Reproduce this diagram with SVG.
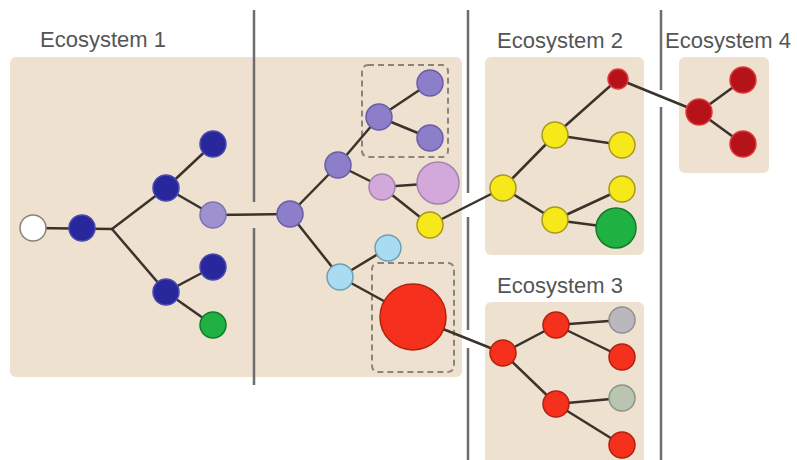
<svg xmlns="http://www.w3.org/2000/svg" width="797" height="460" viewBox="0 0 797 460">
<style>
.box{fill:#eee1d0}
.div{stroke:#6e6e6e;stroke-width:2.5;fill:none}
.lbl{font-family:"Liberation Sans",Arial,sans-serif;font-size:22px;fill:#555}
.dash{fill:none;stroke:#8a847c;stroke-width:2;stroke-dasharray:6 4}
.e line{stroke:#3a322b;stroke-width:2.5}
.db{fill:#28279b;stroke:#4a4ab0;stroke-width:1.5}
.lp{fill:#9d91cf;stroke:#7f73b4;stroke-width:1.5}
.pu{fill:#8c7ec8;stroke:#6a5ca6;stroke-width:1.5}
.pk{fill:#d3a9db;stroke:#a683b0;stroke-width:1.5}
.ye{fill:#f6e819;stroke:#a79a1c;stroke-width:1.5}
.cy{fill:#a9dcf2;stroke:#6f9fb3;stroke-width:1.5}
.rd{fill:#f5311d;stroke:#b3200f;stroke-width:1.5}
.dr{fill:#b5121a;stroke:#e0383c;stroke-width:1.5}
.gr{fill:#1fb142;stroke:#137a2c;stroke-width:1.5}
.wh{fill:#ffffff;stroke:#8a8378;stroke-width:1.5}
.gy{fill:#b9b9bd;stroke:#8f8f94;stroke-width:1.5}
.gg{fill:#b9c4b1;stroke:#8a9684;stroke-width:1.5}
</style>
<rect width="797" height="460" fill="#ffffff"/>
<g id="backgrounds">
<rect class="box" x="10" y="57" width="452" height="320" rx="6"/>
<rect class="box" x="485" y="57" width="159" height="198" rx="6"/>
<rect class="box" x="485" y="302" width="159" height="170" rx="6"/>
<rect class="box" x="679" y="57" width="90" height="116" rx="6"/>
</g>
<g id="dividers">
<path class="div" d="M254 10V202M254 228V385"/>
<path class="div" d="M468 10V193M468 217V330M468 348V460"/>
<path class="div" d="M661 10V90M661 107V460"/>
</g>
<g id="labels">
<text class="lbl" x="40" y="47">Ecosystem 1</text>
<text class="lbl" x="497" y="48">Ecosystem 2</text>
<text class="lbl" x="497" y="293">Ecosystem 3</text>
<text class="lbl" x="665" y="48">Ecosystem 4</text>
</g>
<g id="groups">
<rect class="dash" x="362" y="65" width="86" height="92" rx="6"/>
<rect class="dash" x="372" y="263" width="82" height="109" rx="6"/>
</g>
<g id="connectors" class="e">
<line x1="33" y1="228" x2="112" y2="229"/>
<line x1="112" y1="229" x2="166" y2="188"/>
<line x1="112" y1="229" x2="166" y2="292"/>
<line x1="166" y1="188" x2="213" y2="144"/>
<line x1="166" y1="188" x2="213" y2="215"/>
<line x1="166" y1="292" x2="213" y2="267"/>
<line x1="166" y1="292" x2="213" y2="325"/>
<line x1="213" y1="215" x2="290" y2="214"/>
<line x1="290" y1="214" x2="338" y2="165"/>
<line x1="338" y1="165" x2="379" y2="117"/>
<line x1="379" y1="117" x2="430" y2="83"/>
<line x1="379" y1="117" x2="430" y2="138"/>
<line x1="338" y1="165" x2="382" y2="187"/>
<line x1="382" y1="187" x2="438" y2="183"/>
<line x1="382" y1="187" x2="430" y2="225"/>
<line x1="290" y1="214" x2="340" y2="277"/>
<line x1="340" y1="277" x2="388" y2="248"/>
<line x1="340" y1="277" x2="413" y2="317"/>
<line x1="430" y1="225" x2="503" y2="188"/>
<line x1="413" y1="317" x2="503" y2="353"/>
<line x1="503" y1="188" x2="555" y2="135"/>
<line x1="555" y1="135" x2="618" y2="79"/>
<line x1="555" y1="135" x2="622" y2="145"/>
<line x1="503" y1="188" x2="555" y2="220"/>
<line x1="555" y1="220" x2="622" y2="189"/>
<line x1="555" y1="220" x2="616" y2="228"/>
<line x1="618" y1="79" x2="699" y2="112"/>
<line x1="699" y1="112" x2="743" y2="80"/>
<line x1="699" y1="112" x2="743" y2="144"/>
<line x1="503" y1="353" x2="556" y2="325"/>
<line x1="556" y1="325" x2="622" y2="320"/>
<line x1="556" y1="325" x2="622" y2="357"/>
<line x1="503" y1="353" x2="556" y2="404"/>
<line x1="556" y1="404" x2="622" y2="398"/>
<line x1="556" y1="404" x2="622" y2="445"/>
</g>
<g id="eco1-nodes">
<g id="n-white"><circle class="wh" cx="33" cy="228" r="13"/></g>
<g id="n-b1"><circle class="db" cx="82" cy="228" r="13"/></g>
<g id="n-b2"><circle class="db" cx="166" cy="188" r="13"/></g>
<g id="n-b3"><circle class="db" cx="213" cy="144" r="13"/></g>
<g id="n-lp1"><circle class="lp" cx="213" cy="215" r="13"/></g>
<g id="n-b4"><circle class="db" cx="166" cy="292" r="13"/></g>
<g id="n-b5"><circle class="db" cx="213" cy="267" r="13"/></g>
<g id="n-g1"><circle class="gr" cx="213" cy="325" r="13"/></g>
<g id="n-p1"><circle class="pu" cx="290" cy="214" r="13"/></g>
<g id="n-p2"><circle class="pu" cx="338" cy="165" r="13"/></g>
<g id="n-p3"><circle class="pu" cx="379" cy="117" r="13"/></g>
<g id="n-p4"><circle class="pu" cx="430" cy="83" r="13"/></g>
<g id="n-p5"><circle class="pu" cx="430" cy="138" r="13"/></g>
<g id="n-pk1"><circle class="pk" cx="382" cy="187" r="13"/></g>
<g id="n-pk2"><circle class="pk" cx="438" cy="183" r="21"/></g>
<g id="n-y0"><circle class="ye" cx="430" cy="225" r="13"/></g>
<g id="n-c1"><circle class="cy" cx="340" cy="277" r="13"/></g>
<g id="n-c2"><circle class="cy" cx="388" cy="248" r="13"/></g>
<g id="n-bigred"><circle class="rd" cx="413" cy="317" r="33"/></g>
</g>
<g id="eco2-nodes">
<g id="n-y1"><circle class="ye" cx="503" cy="188" r="13"/></g>
<g id="n-y2"><circle class="ye" cx="555" cy="135" r="13"/></g>
<g id="n-dr1"><circle class="dr" cx="618" cy="79" r="10"/></g>
<g id="n-y3"><circle class="ye" cx="622" cy="145" r="13"/></g>
<g id="n-y4"><circle class="ye" cx="555" cy="220" r="13"/></g>
<g id="n-y5"><circle class="ye" cx="622" cy="189" r="13"/></g>
<g id="n-g2"><circle class="gr" cx="616" cy="228" r="20"/></g>
</g>
<g id="eco4-nodes">
<g id="n-dr2"><circle class="dr" cx="699" cy="112" r="13"/></g>
<g id="n-dr3"><circle class="dr" cx="743" cy="80" r="13"/></g>
<g id="n-dr4"><circle class="dr" cx="743" cy="144" r="13"/></g>
</g>
<g id="eco3-nodes">
<g id="n-r1"><circle class="rd" cx="503" cy="353" r="13"/></g>
<g id="n-r2"><circle class="rd" cx="556" cy="325" r="13"/></g>
<g id="n-gy1"><circle class="gy" cx="622" cy="320" r="13"/></g>
<g id="n-r3"><circle class="rd" cx="622" cy="357" r="13"/></g>
<g id="n-r4"><circle class="rd" cx="556" cy="404" r="13"/></g>
<g id="n-gg1"><circle class="gg" cx="622" cy="398" r="13"/></g>
<g id="n-r5"><circle class="rd" cx="622" cy="445" r="13"/></g>
</g>
</svg>
